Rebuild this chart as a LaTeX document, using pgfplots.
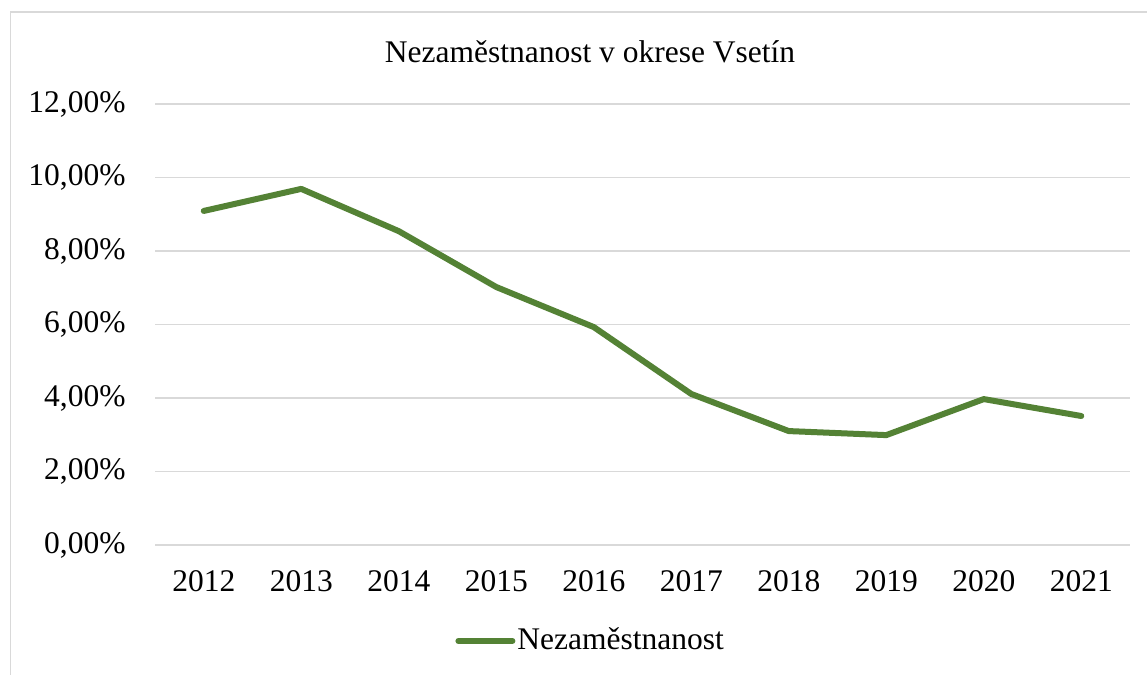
\documentclass[border=0pt]{standalone}
\usepackage{pgfplots}
\pgfplotsset{compat=1.18}
\usepackage{fontspec}
\setmainfont{Liberation Serif}
\definecolor{linegreen}{RGB}{84,130,53}
\definecolor{gridgray}{RGB}{217,217,217}
\pgfplotstableread{
x y
0 9.09
1 9.69
2 8.54
3 7.02
4 5.93
5 4.11
6 3.10
7 2.99
8 3.97
9 3.51
}\datatable
\begin{document}
\fontsize{15.75}{19}\selectfont
\begin{tikzpicture}
\useasboundingbox (0,0) rectangle (573.5pt,337.5pt);
\clip (0,0) rectangle (573.5pt,337.5pt);
\fill[white] (0,0) rectangle (573.5pt,337.5pt);
\draw[gridgray, line width=0.75pt] (5.25pt,-20pt) rectangle (600pt,331.5pt);
\node[anchor=base] at (295pt,306pt) {Nezaměstnanost v okrese Vsetín};
\begin{axis}[
  at={(77.5pt,65pt)}, anchor=south west,
  scale only axis, width=487.5pt, height=220.5pt,
  xmin=-0.5, xmax=9.5, ymin=0, ymax=12,
  axis line style={draw=none},
  tick style={draw=none},
  xtick={0,...,9},
  xticklabels={2012,2013,2014,2015,2016,2017,2018,2019,2020,2021},
  ytick={0,2,4,6,8,10,12},
  yticklabels={{0,00\%},{2,00\%},{4,00\%},{6,00\%},{8,00\%},{10,00\%},{12,00\%}},
  ymajorgrids, grid style={gridgray, line width=0.75pt},
  xticklabel style={inner sep=0pt, anchor=north, yshift=-12.5pt},
  yticklabel style={inner sep=0pt, anchor=east, xshift=-14.5pt},
  legend style={at={(0.3077,-0.2177)}, anchor=west, draw=none, fill=none, inner sep=0pt,
    nodes={inner sep=1pt, anchor=west}},
  legend image code/.code={\draw[#1, line cap=round] (0pt,0pt) -- (27pt,0pt);},
]
\addplot[linegreen, line width=3pt, line join=round, line cap=round] table[x=x,y=y] {\datatable};
\addlegendentry{Nezaměstnanost}
\end{axis}
\end{tikzpicture}
\end{document}
